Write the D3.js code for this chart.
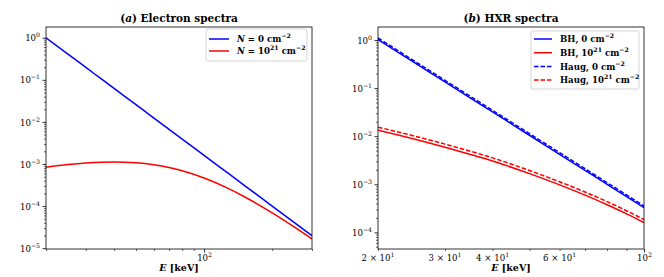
<!DOCTYPE html>
<html><head><meta charset="utf-8">
<script src="https://cdn.jsdelivr.net/npm/d3@7"></script>
<style>body{margin:0;background:#fff}svg{display:block}text{font-family:"DejaVu Serif","Liberation Serif",serif;fill:#000}</style>
</head><body><svg id="c" width="664" height="277"></svg>
<script>
// ---- data ----
const leftE   = [20, 25, 30, 35, 40, 50, 60, 70, 80, 100, 125, 150, 200, 250, 300];
const leftN0  = [1, 0.4096, 0.1975, 0.1066, 0.0625, 0.0256, 0.01235, 0.00666, 0.0039, 0.0016, 6.55e-4, 3.16e-4, 1.0e-4, 4.1e-5, 1.98e-5];
const leftN21 = [8.4e-4, 9.67e-4, 1.054e-3, 1.103e-3, 1.118e-3, 1.07e-3, 9.6e-4, 8.25e-4, 6.9e-4, 4.65e-4, 2.78e-4, 1.69e-4, 6.9e-5, 3.21e-5, 1.66e-5];

const rightE    = [20, 25, 30, 35, 40, 50, 60, 70, 80, 90, 100];
const bh0       = [1.02, 0.334, 0.134, 0.0620, 0.0319, 0.01044, 0.0042, 0.00194, 9.96e-4, 5.53e-4, 3.26e-4];
const haug0     = [1.10, 0.360, 0.1447, 0.0670, 0.0344, 0.01128, 0.00454, 0.0021, 1.077e-3, 5.98e-4, 3.55e-4];
const bh21      = [1.33e-2, 8.65e-3, 5.89e-3, 4.17e-3, 3.04e-3, 1.66e-3, 9.7e-4, 5.93e-4, 3.74e-4, 2.42e-4, 1.59e-4];
const haug21    = [1.54e-2, 1.0e-2, 6.83e-3, 4.84e-3, 3.53e-3, 1.93e-3, 1.125e-3, 6.88e-4, 4.34e-4, 2.81e-4, 1.84e-4];

const leftYTicks  = [0, -1, -2, -3, -4, -5];   // exponents
const rightYTicks = [0, -1, -2, -3, -4];
const leftXTicks  = [2];                         // 10^2
const rightXLabels = [{v:20,m:"2"},{v:30,m:"3"},{v:40,m:"4"},{v:60,m:"6"}];

const svg = d3.select("#c");
const topY = 27, bottomY = 249;
const fs = 8.6;

function supLabel(sel, base, exp, anchor){
  sel.attr("text-anchor", anchor);
  sel.append("tspan").text(base);
  sel.append("tspan").attr("dy", -4).attr("font-size", fs*0.72).text(exp);
}

function panel(opt){
  const g = svg.append("g");
  const x = d3.scaleLog().domain(opt.xd).range([opt.x0, opt.x1]);
  const y = d3.scaleLog().domain(opt.yd).range([bottomY, topY]);

  const ymin = [];
  for (let e = -6; e <= 1; e++) for (let k = 2; k <= 9; k++) {
    const v = k * Math.pow(10, e); if (v >= opt.yd[0] && v <= opt.yd[1]) ymin.push(v);
  }
  g.append("g").attr("transform", `translate(${opt.x0},0)`)
    .call(d3.axisLeft(y).tickValues(ymin).tickSize(2).tickFormat(() => ""))
    .call(a => { a.select(".domain").remove(); a.selectAll("line").attr("stroke", "#000").attr("stroke-width", 0.6); });
  const yAx = g.append("g").attr("transform", `translate(${opt.x0},0)`)
    .call(d3.axisLeft(y).tickValues(opt.yTicks.map(e => Math.pow(10, e))).tickSize(3.5).tickPadding(2.5).tickFormat(() => ""));
  yAx.select(".domain").remove();
  yAx.selectAll("line").attr("stroke", "#000").attr("stroke-width", 0.8);
  yAx.selectAll(".tick text").each(function(d){
    const t = d3.select(this).attr("font-size", fs).attr("dy", "0.36em");
    const e = Math.round(Math.log10(d));
    supLabel(t, "10", e < 0 ? "\u2212" + (-e) : String(e), "end");
  });

  const xmin = [];
  for (let e = 0; e <= 3; e++) for (let k = 2; k <= 9; k++) {
    const v = k * Math.pow(10, e); if (v >= opt.xd[0] - 1e-9 && v <= opt.xd[1] + 1e-9) xmin.push(v);
  }
  g.append("g").attr("transform", `translate(0,${bottomY})`)
    .call(d3.axisBottom(x).tickValues(xmin).tickSize(2).tickFormat(() => ""))
    .call(a => { a.select(".domain").remove(); a.selectAll("line").attr("stroke", "#000").attr("stroke-width", 0.6); });
  const xAx = g.append("g").attr("transform", `translate(0,${bottomY})`)
    .call(d3.axisBottom(x).tickValues(opt.xTicks.map(e => Math.pow(10, e))).tickSize(3.5).tickFormat(() => ""));
  xAx.select(".domain").remove();
  xAx.selectAll("line").attr("stroke", "#000").attr("stroke-width", 0.8);
  xAx.selectAll(".tick text").each(function(d){
    const t = d3.select(this).attr("font-size", fs).attr("y", 11.5).attr("dy", null);
    supLabel(t, "10", String(Math.round(Math.log10(d))), "middle");
  });
  if (opt.xLabels) {
    opt.xLabels.forEach(l => {
      const t = g.append("text").attr("x", x(l.v)).attr("y", bottomY + 11.5).attr("font-size", fs).attr("text-anchor", "middle");
      t.append("tspan").text(l.m + " \u00d7 10");
      t.append("tspan").attr("dy", -4).attr("font-size", fs * 0.72).text("1");
    });
  }

  const clipId = "clip" + opt.x0;
  svg.append("clipPath").attr("id", clipId).append("rect")
    .attr("x", opt.x0).attr("y", topY).attr("width", opt.x1 - opt.x0).attr("height", bottomY - topY);
  const lg = g.append("g").attr("clip-path", `url(#${clipId})`);
  opt.series.forEach(s => {
    const line = d3.line().x((d, i) => x(s.E[i])).y(d => y(d)).curve(d3.curveMonotoneX);
    lg.append("path").attr("d", line(s.v)).attr("fill", "none")
      .attr("stroke", s.color).attr("stroke-width", 1.5)
      .attr("stroke-dasharray", s.dash ? "4.5,2" : null);
  });

  g.append("rect").attr("x", opt.x0).attr("y", topY).attr("width", opt.x1 - opt.x0).attr("height", bottomY - topY)
    .attr("fill", "none").attr("stroke", "#000").attr("stroke-width", 0.8);

  const cx = (opt.x0 + opt.x1) / 2;
  const tt = g.append("text").attr("x", cx).attr("y", 22).attr("text-anchor", "middle")
    .attr("font-size", 10.5).attr("font-weight", "bold");
  tt.append("tspan").text("(");
  tt.append("tspan").attr("font-style", "italic").text(opt.letter);
  tt.append("tspan").text(") " + opt.title);

  const xl = g.append("text").attr("x", cx).attr("y", 271).attr("text-anchor", "middle").attr("font-size", 9.5).attr("font-weight", "bold");
  xl.append("tspan").attr("font-style", "italic").text("E");
  xl.append("tspan").text(" [keV]");

  const L = opt.legend;
  g.append("rect").attr("x", L.x).attr("y", L.y).attr("width", L.w).attr("height", L.h).attr("rx", 2)
    .attr("fill", "#fff").attr("fill-opacity", 0.8).attr("stroke", "#ccc").attr("stroke-width", 0.8);
  L.items.forEach((it, i) => {
    const yy = L.rows[i];
    g.append("line").attr("x1", L.lx0).attr("x2", L.lx1).attr("y1", yy).attr("y2", yy)
      .attr("stroke", it.color).attr("stroke-width", 1.5).attr("stroke-dasharray", it.dash ? "4.5,2" : null);
    const t = g.append("text").attr("x", L.tx).attr("y", yy).attr("dy", "0.38em").attr("font-size", 8.6).attr("font-weight", "bold");
    it.parts.forEach(p => {
      const ts = t.append("tspan").text(p.t);
      if (p.i) ts.attr("font-style", "italic");
      if (p.s) ts.attr("dy", -4).attr("font-size", 8.6 * 0.72);
      if (p.d) ts.attr("dy", 4);
    });
  });
}

panel({
  x0: 46, x1: 312, xd: [20, 300], yd: [Math.pow(10, -5.02), Math.pow(10, 0.255)],
  yTicks: leftYTicks, xTicks: leftXTicks, letter: "a", title: "Electron spectra",
  series: [
    {E: leftE, v: leftN0, color: "#0000ff"},
    {E: leftE, v: leftN21, color: "#ff0000"}
  ],
  legend: {x: 206, y: 29, w: 101, h: 32, rows: [39, 51], lx0: 209, lx1: 229, tx: 237,
    items: [
      {color: "#0000ff", parts: [{t: "N", i: 1}, {t: " = 0 cm"}, {t: "\u22122", s: 1}]},
      {color: "#ff0000", parts: [{t: "N", i: 1}, {t: " = 10"}, {t: "21", s: 1}, {t: " cm", d: 1}, {t: "\u22122", s: 1}]}
    ]}
});

panel({
  x0: 378, x1: 644, xd: [20, 100], yd: [Math.pow(10, -4.347), Math.pow(10, 0.27)],
  yTicks: rightYTicks, xTicks: [2], xLabels: rightXLabels, letter: "b", title: "HXR spectra",
  series: [
    {E: rightE, v: bh0, color: "#0000ff"},
    {E: rightE, v: bh21, color: "#ff0000"},
    {E: rightE, v: haug0, color: "#0000ff", dash: 1},
    {E: rightE, v: haug21, color: "#ff0000", dash: 1}
  ],
  legend: {x: 531, y: 31, w: 108, h: 58, rows: [39, 52.7, 66.5, 80], lx0: 534, lx1: 552, tx: 560,
    items: [
      {color: "#0000ff", parts: [{t: "BH,  0 cm"}, {t: "\u22122", s: 1}]},
      {color: "#ff0000", parts: [{t: "BH,  10"}, {t: "21", s: 1}, {t: " cm", d: 1}, {t: "\u22122", s: 1}]},
      {color: "#0000ff", dash: 1, parts: [{t: "Haug,  0 cm"}, {t: "\u22122", s: 1}]},
      {color: "#ff0000", dash: 1, parts: [{t: "Haug,  10"}, {t: "21", s: 1}, {t: " cm", d: 1}, {t: "\u22122", s: 1}]}
    ]}
});
</script></body></html>
